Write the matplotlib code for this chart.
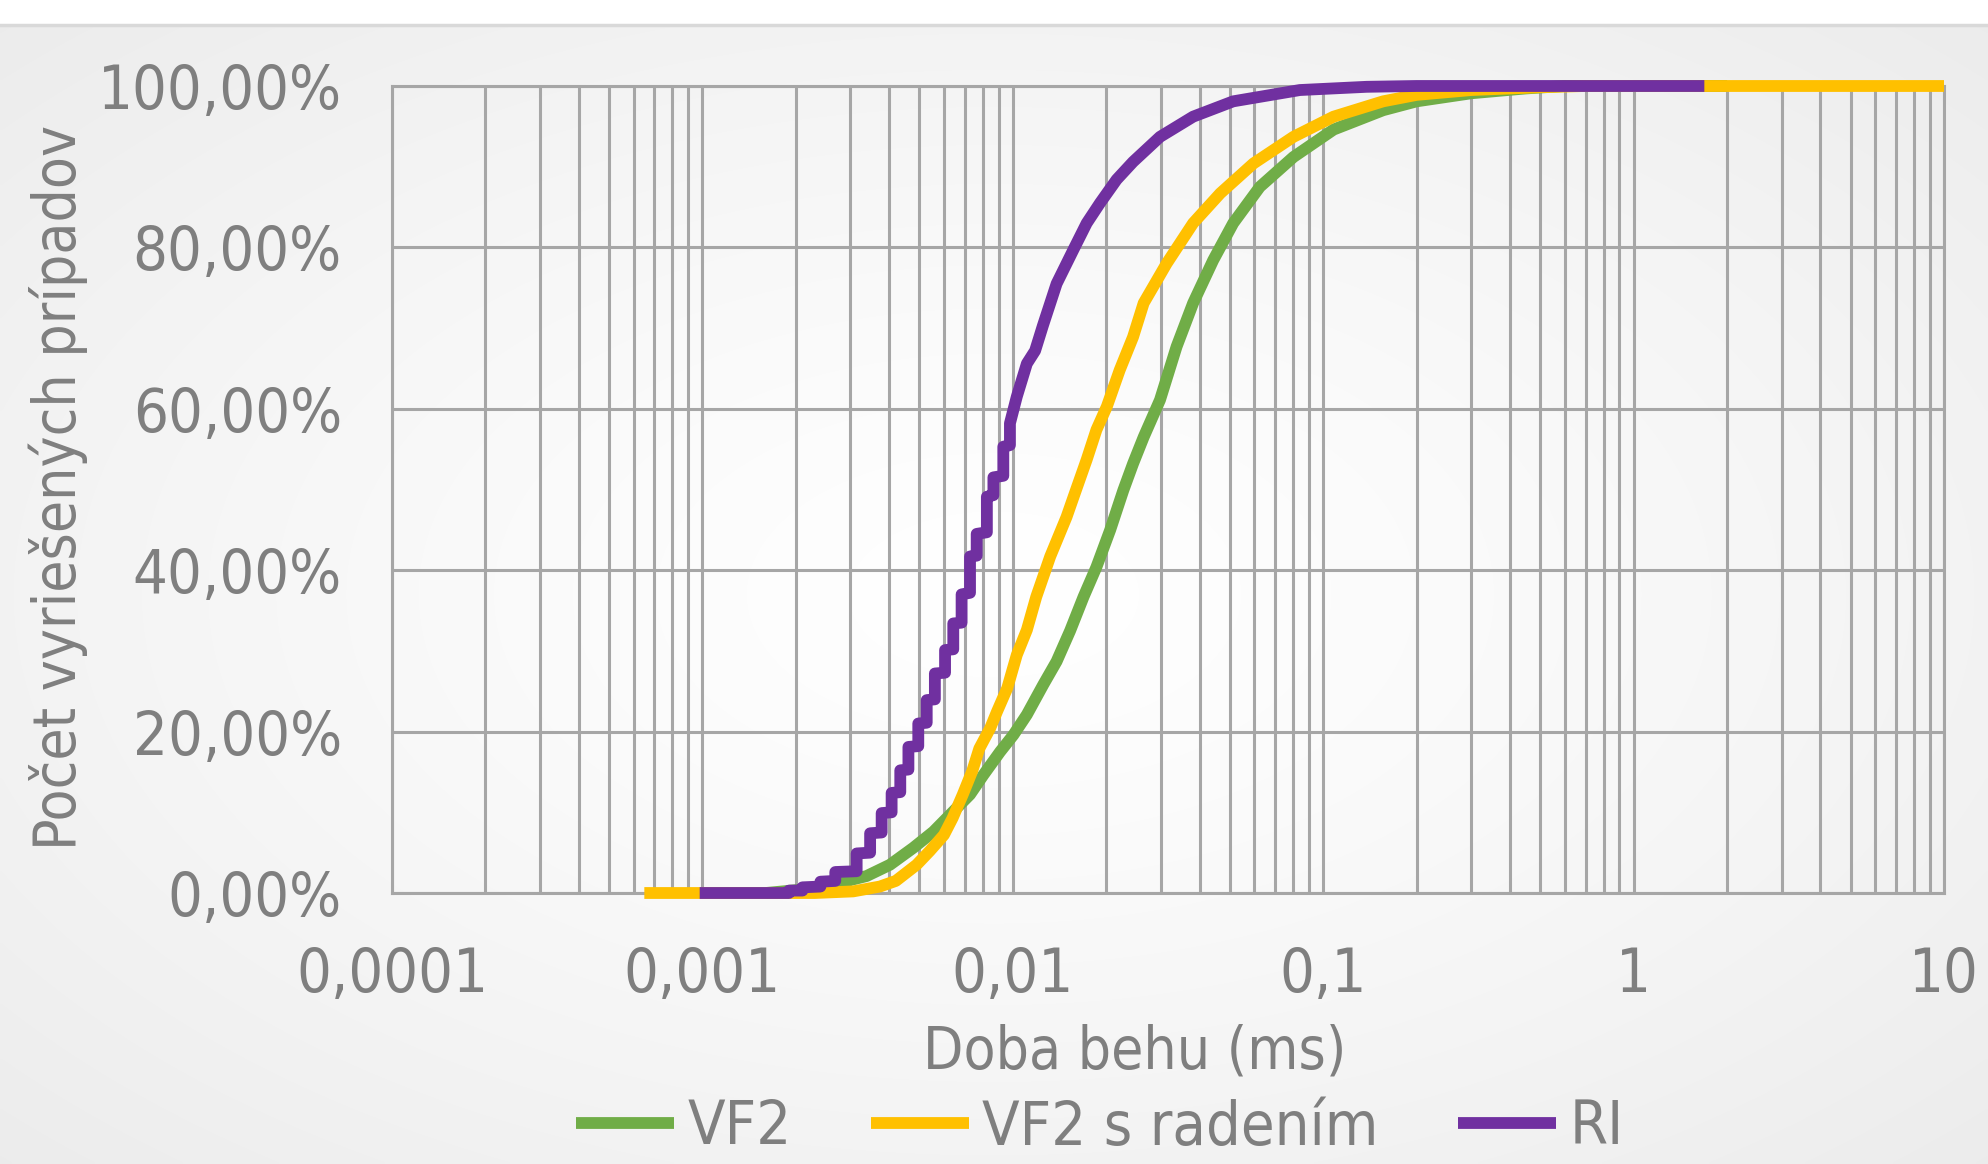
import numpy as np
import matplotlib
matplotlib.use("Agg")
import matplotlib.pyplot as plt
from matplotlib.ticker import FixedLocator, FixedFormatter, LogLocator, NullFormatter
from matplotlib.lines import Line2D
from matplotlib import font_manager as fm

# ---------------- data ----------------
x_tick_values = [0.0001, 0.001, 0.01, 0.1, 1, 10]
x_tick_labels = ["0,0001", "0,001", "0,01", "0,1", "1", "10"]
y_tick_values = [0, 20, 40, 60, 80, 100]
y_tick_labels = ["0,00%", "20,00%", "40,00%", "60,00%", "80,00%", "100,00%"]

series_names = ["VF2", "VF2 s radením", "RI"]

# VF2 (green): run time in ms, cumulative share of solved cases in %
vf2_time = [0.0016, 0.0022, 0.00265, 0.00292, 0.00338, 0.00402, 0.00478, 0.00555,
            0.00643, 0.00728, 0.00803, 0.0091, 0.01005, 0.0111, 0.01253, 0.01384,
            0.0153, 0.0169, 0.0186, 0.0206, 0.0227, 0.0244, 0.0264, 0.0298, 0.0337,
            0.0381, 0.0442, 0.0513, 0.0625, 0.0802, 0.108, 0.156, 0.2, 0.3, 0.45,
            0.6, 2.0]
vf2_pct = [0.0, 0.5, 1.0, 1.5, 2.1, 3.5, 5.6, 7.6, 10.1, 12.2, 14.6, 17.5, 19.6,
           22.1, 25.8, 28.7, 32.5, 36.7, 40.4, 45.0, 49.9, 53.2, 56.5, 61.1, 67.7,
           73.1, 78.4, 83.0, 87.5, 91.2, 94.6, 97.0, 98.1, 99.1, 99.7, 100.0, 100.0]

# VF2 s radením (yellow)
vf2s_time = [0.00065, 0.0023, 0.00306, 0.00373, 0.0042, 0.0049, 0.0054, 0.0060,
             0.0064, 0.0069, 0.0074, 0.0078, 0.00845, 0.0089, 0.0096, 0.0103,
             0.0111, 0.0119, 0.0132, 0.0149, 0.0157, 0.0173, 0.0186, 0.0201,
             0.0221, 0.0244, 0.0264, 0.0313, 0.0381, 0.0466, 0.0596, 0.0802,
             0.108, 0.156, 0.2, 0.3, 0.5, 0.7, 10.0]
vf2s_pct = [0.0, 0.0, 0.2, 0.8, 1.5, 3.5, 5.2, 7.2, 9.3, 12.2, 15.1, 17.9, 20.4,
            22.5, 25.4, 29.5, 32.6, 36.7, 41.7, 46.6, 49.1, 53.7, 57.4, 60.3,
            64.8, 68.9, 73.1, 78.0, 83.0, 86.7, 90.4, 93.7, 96.2, 98.1, 98.9,
            99.5, 99.85, 100.0, 100.0]

# RI (purple) - staircase at short times (tied timer values)
ri_time = [0.00098, 0.0019, 0.0019, 0.0021, 0.0021, 0.0024, 0.0024, 0.00268,
           0.00268, 0.00314, 0.00314, 0.00347, 0.00347, 0.00378, 0.00378,
           0.00407, 0.00407, 0.00434, 0.00434, 0.00461, 0.00461, 0.00496,
           0.00496, 0.00528, 0.00528, 0.00561, 0.00561, 0.00605, 0.00605,
           0.00643, 0.00643, 0.00684, 0.00684, 0.00728, 0.00728, 0.00765,
           0.00765, 0.00825, 0.00825, 0.00866, 0.00866, 0.00932, 0.00932,
           0.00979, 0.00979, 0.0103, 0.0111, 0.0118, 0.0125, 0.01384, 0.01567,
           0.0173, 0.0191, 0.0216, 0.0244, 0.0298, 0.0381, 0.0513, 0.0841,
           0.138, 0.2, 1.69]
ri_pct = [0.0, 0.0, 0.3, 0.3, 0.7, 0.8, 1.4, 1.5, 2.6, 2.7, 4.9, 5.0, 7.4, 7.5,
          9.9, 10.0, 12.4, 12.5, 15.2, 15.3, 18.1, 18.2, 21.0, 21.1, 23.9, 24.0,
          27.2, 27.3, 30.1, 30.2, 33.4, 33.5, 37.0, 37.2, 41.7, 41.8, 44.5, 44.7,
          49.1, 49.3, 51.5, 51.7, 55.3, 55.5, 58.2, 61.5, 65.6, 67.2, 70.3, 75.5,
          79.7, 83.0, 85.5, 88.4, 90.6, 93.7, 96.2, 98.1, 99.5, 99.9, 100.0, 100.0]

# ---------------- style ----------------
colors = ["#70AD47", "#FFC000", "#7030A0"]
text_color = "#7F7F7F"
grid_color = "#A6A6A6"

avail = {(f.name, f.stretch) for f in fm.fontManager.ttflist}
plt.rcParams["font.family"] = ["DejaVu Sans"]
if ("DejaVu Sans", "condensed") in avail:
    plt.rcParams["font.stretch"] = "condensed"

FS = 44
FS_LABEL = 42
LW = 8.5

W, H = 1988, 1164
fig = plt.figure(figsize=(W / 100, H / 100), dpi=100)
fig.patch.set_facecolor("white")

# background radial gradient
top_band = 25 / H
bg = fig.add_axes([0, 0, 1, 1 - top_band], zorder=-10)
yy, xx = np.mgrid[-1:1:300j, -1:1:500j]
r = np.sqrt(xx ** 2 + yy ** 2) / np.sqrt(2)
val = 1.0 - 0.075 * np.clip(r, 0, 1) ** 1.3
bg.imshow(np.dstack([val, val, val]), aspect="auto", extent=[0, 1, 0, 1],
          interpolation="bilinear")
bg.set_axis_off()
fig.add_artist(Line2D([0, 1], [1 - top_band, 1 - top_band], transform=fig.transFigure,
                      color="#D9D9D9", lw=2.5))

ax = fig.add_axes([392 / W, 1 - 893 / H, (1944 - 392) / W, (893 - 86) / H])
ax.set_facecolor("none")
ax.set_xscale("log")
ax.set_xlim(1e-4, 10)
ax.set_ylim(0, 100)

for t, p, c in zip([vf2_time, vf2s_time, ri_time], [vf2_pct, vf2s_pct, ri_pct], colors):
    ax.plot(t, p, color=c, lw=LW, clip_on=False, solid_capstyle="butt",
            solid_joinstyle="round", zorder=3)

ax.xaxis.set_major_locator(FixedLocator(x_tick_values))
ax.xaxis.set_major_formatter(FixedFormatter(x_tick_labels))
ax.xaxis.set_minor_locator(LogLocator(base=10, subs=np.arange(2, 10)))
ax.xaxis.set_minor_formatter(NullFormatter())
ax.yaxis.set_major_locator(FixedLocator(y_tick_values))
ax.yaxis.set_major_formatter(FixedFormatter(y_tick_labels))

ax.grid(True, which="both", axis="x", color=grid_color, lw=2.2)
ax.grid(True, which="major", axis="y", color=grid_color, lw=2.2)
ax.set_axisbelow(True)
for s in ax.spines.values():
    s.set_color(grid_color)
    s.set_linewidth(2.2)
    s.set_zorder(1)

ax.tick_params(axis="both", which="both", length=0, labelsize=FS, labelcolor=text_color)
ax.tick_params(axis="y", pad=36)
ax.tick_params(axis="x", pad=38)

fig.text(1135 / W, 1 - 1069 / H, "Doba behu (ms)", ha="center", va="baseline",
         fontsize=FS_LABEL, color=text_color)
fig.text(58 / W, 1 - 487 / H, "Počet vyriešených prípadov", ha="center", va="center",
         rotation=90, fontsize=FS_LABEL, color=text_color)

handles = [Line2D([], [], color=c, lw=LW, solid_capstyle="butt") for c in colors]
fig.legend(handles, series_names, loc="center", bbox_to_anchor=(1100 / W, 1 - 1128 / H),
           ncol=3, frameon=False, fontsize=FS, labelcolor=text_color,
           handlelength=1.6, handletextpad=0.22, columnspacing=1.3,
           borderaxespad=0, borderpad=0)

fig.savefig("out.png", dpi=100)
